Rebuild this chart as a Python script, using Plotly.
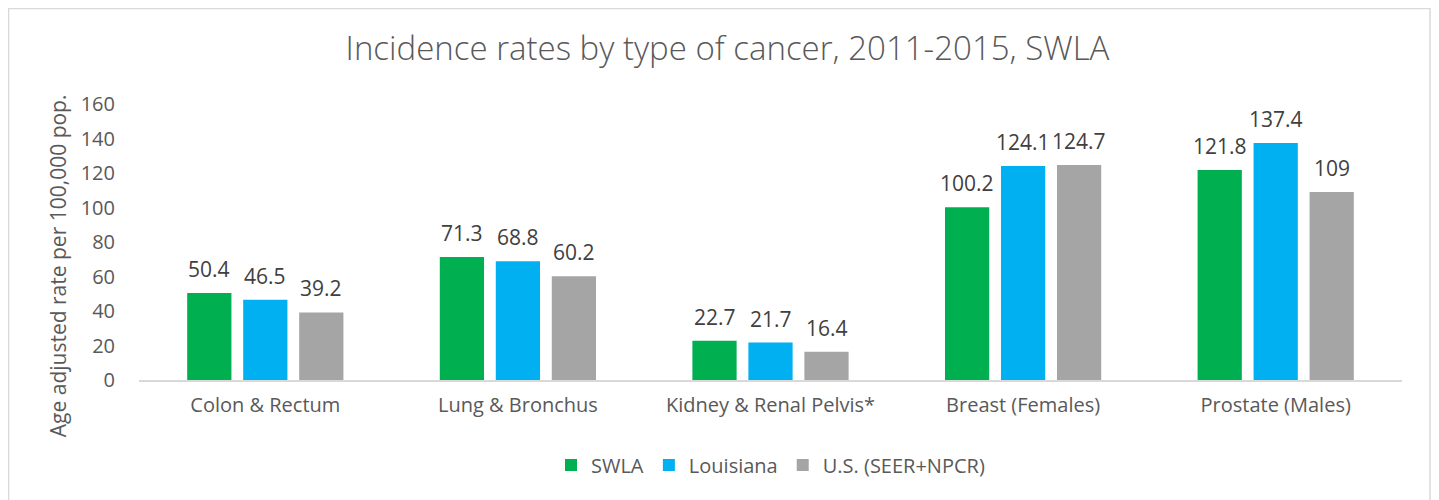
import plotly.graph_objects as go

categories = ["Colon & Rectum", "Lung & Bronchus", "Kidney & Renal Pelvis*",
              "Breast (Females)", "Prostate (Males)"]
swla = [50.4, 71.3, 22.7, 100.2, 121.8]
louisiana = [46.5, 68.8, 21.7, 124.1, 137.4]
us = [39.2, 60.2, 16.4, 124.7, 109]

series = [
    ("SWLA", swla, "#00B050"),
    ("Louisiana", louisiana, "#00B0F0"),
    ("U.S. (SEER+NPCR)", us, "#A5A5A5"),
]

FONT = "Open Sans, DejaVu Sans, sans-serif"
GREY = "#595959"

fig = go.Figure()
for name, vals, color in series:
    fig.add_trace(go.Bar(
        x=categories, y=vals, name=name,
        marker=dict(color=color, line=dict(width=0)),
    ))

# data labels, shifted over their bar within each group
annotations = []
for i, (name, vals, color) in enumerate(series):
    for cat, v in zip(categories, vals):
        annotations.append(dict(
            x=cat, y=v, xref="x", yref="y", text=f"{v:g}", showarrow=False,
            xshift=(i - 1) * 56, yshift=24,
            font=dict(size=21, color="#404040", family=FONT),
        ))

annotations.append(dict(
    text="Age adjusted rate per 100,000 pop.", textangle=-90,
    xref="paper", yref="paper", x=-0.064, y=0.413, xanchor="center", yanchor="middle",
    showarrow=False, font=dict(size=21, color=GREY, family=FONT),
))

fig.update_layout(
    width=1439, height=500,
    barmode="group", bargap=0.335, bargroupgap=0.21,
    paper_bgcolor="white", plot_bgcolor="white",
    margin=dict(l=131, r=45, t=96, b=128, autoexpand=False),
    font=dict(family=FONT, color=GREY),
    title=dict(text="Incidence rates by type of cancer, 2011-2015, SWLA",
               x=0.5, xanchor="center", y=0.92, yanchor="middle",
               font=dict(size=33, color=GREY, family=FONT, weight=300)),
    legend=dict(orientation="h", x=0.5, xanchor="center", y=-0.308, yanchor="middle",
                font=dict(size=20, color=GREY), itemwidth=30,
                traceorder="normal"),
    annotations=annotations,
    shapes=[dict(type="rect", xref="paper", yref="paper",
                 x0=-0.1033, x1=1.0222, y0=-0.5, y1=1.346,
                 line=dict(color="#D9D9D9", width=1.5), layer="below")],
)
fig.update_xaxes(showline=True, linecolor="#D9D9D9", linewidth=2, automargin=False,
                 ticklabelstandoff=6,
                 tickfont=dict(size=20, color=GREY), ticks="")
fig.update_yaxes(range=[0, 160], dtick=20, showgrid=False, zeroline=False,
                 automargin=False, ticklabelstandoff=23,
                 tickfont=dict(size=20, color=GREY), ticks="")

fig.write_html("out.html")
